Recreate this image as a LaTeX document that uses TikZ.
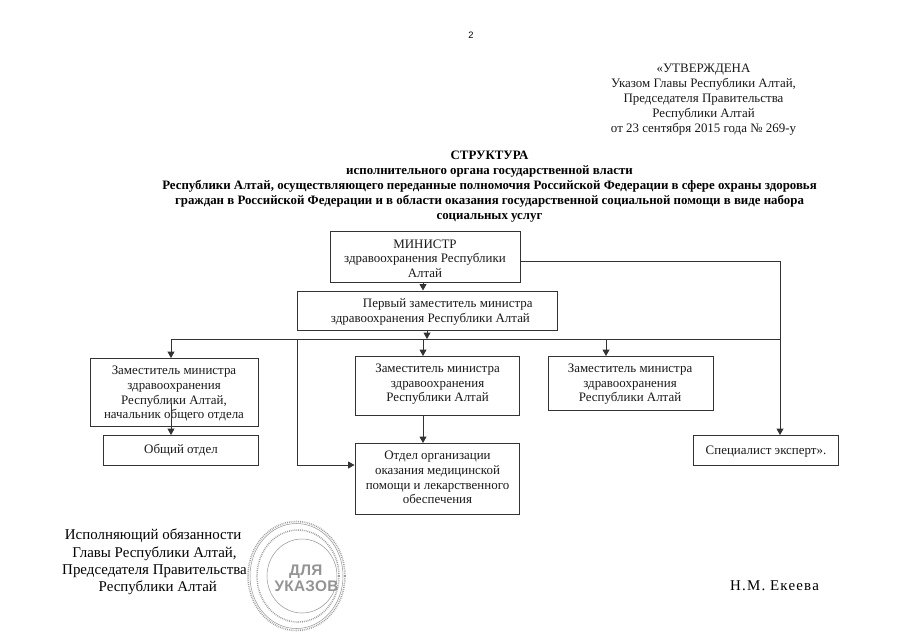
\documentclass[tikz,border=0pt]{standalone}
\usepackage{fontspec}
\setmainfont{Liberation Serif}
\setsansfont{Liberation Sans}
\usetikzlibrary{arrows.meta}
\tikzset{
  x=0.75pt,y=-0.75pt,
  orgbox/.style={draw=black!80,line width=0.65pt,fill=white,inner sep=0pt},
  conn/.style={draw=black!80,line width=0.65pt},
  arr/.style={conn,-{Triangle[length=4.8pt,width=5.2pt]}},
  txt/.style={inner sep=0pt,align=center,font=\fontsize{9.7pt}{11pt}\selectfont,text=black!90},
  head/.style={inner sep=0pt,align=center,font=\fontsize{9.65pt}{11.25pt}\selectfont\bfseries},
  sign/.style={inner sep=0pt,align=center,font=\fontsize{11.2pt}{13pt}\selectfont},
  ring/.style={draw=black!40,line width=0.4pt},
  dotring/.style={draw=black!38,line width=1.2pt,dash pattern=on 0.6pt off 0.8pt},
}
\begin{document}
\begin{tikzpicture}
\useasboundingbox (0,0) rectangle (905,640);
\fill[white] (0,0) rectangle (905,640);
\node[inner sep=0pt,font=\fontsize{7pt}{8pt}\sffamily\selectfont] (pg) at (471,35.5) {2};
\node[txt,anchor=north,font=\fontsize{9.7pt}{11.25pt}\selectfont] (appr) at (703.5,63.5) {«УТВЕРЖДЕНА\\Указом Главы Республики Алтай,\\Председателя Правительства\\Республики Алтай\\от 23 сентября 2015 года № 269-у};
\node[head,anchor=north] (title) at (489.5,151) {СТРУКТУРА\\
исполнительного органа государственной власти\\
Республики Алтай, осуществляющего переданные полномочия Российской Федерации в сфере охраны здоровья\\
граждан в Российской Федерации и в области оказания государственной социальной помощи в виде набора\\
социальных услуг};
% boxes
\node[orgbox,anchor=north west,minimum width=142.5pt,minimum height=37.9pt] (min) at (330,231) {};
\node[orgbox,anchor=north west,minimum width=195pt,minimum height=29.6pt] (first) at (297,290.5) {};
\node[orgbox,anchor=north west,minimum width=126pt,minimum height=51pt] (d1) at (90,358) {};
\node[orgbox,anchor=north west,minimum width=116.3pt,minimum height=22.5pt] (gen) at (103,435) {};
\node[orgbox,anchor=north west,minimum width=123.4pt,minimum height=44.6pt] (d2) at (354.5,356) {};
\node[orgbox,anchor=north west,minimum width=123.4pt,minimum height=53.6pt] (dept) at (354.5,443) {};
\node[orgbox,anchor=north west,minimum width=123.4pt,minimum height=40.5pt] (d3) at (548,356) {};
\node[orgbox,anchor=north west,minimum width=109pt,minimum height=22.5pt] (spec) at (693,435) {};
% labels
\node[txt] (mint) at (425,258.5) {МИНИСТР\\здравоохранения Республики\\Алтай};
\node[txt,anchor=north west] (firstt) at (328,298.5) {\hspace*{26pt}Первый заместитель министра\\здравоохранения Республики Алтай};
\node[txt,anchor=north] (d1t) at (174,366) {Заместитель министра\\здравоохранения\\Республики Алтай,\\начальник общего отдела};
\node[txt] (gent) at (181,450.5) {Общий отдел};
\node[txt,anchor=north] (d2t) at (437.5,363.5) {Заместитель министра\\здравоохранения\\Республики Алтай};
\node[txt,anchor=north] (deptt) at (437.5,451) {Отдел организации\\оказания медицинской\\помощи и лекарственного\\обеспечения};
\node[txt,anchor=north] (d3t) at (630,363.5) {Заместитель министра\\здравоохранения\\Республики Алтай};
\node[txt] (spect) at (766,451.5) {Специалист эксперт».};
% connector helper points
\coordinate (bus) at (427,339);
\coordinate (busL) at (171,339);
\coordinate (busM) at (297,339);
\coordinate (busS) at (423,339);
\coordinate (bus3) at (606,339);
\coordinate (busR) at (780,339);
\coordinate (minE) at (780,261.5);
\coordinate (d1mid) at (171,403);
\draw[arr] (min.south -| busS) -- (first.north -| busS);
\draw[arr] (first.south -| bus) -- (bus);
\draw[conn] (busL) -- (busR);
\draw[arr] (busL) -- (d1.north -| busL);
\draw[arr] (d1mid) -- (gen.north -| d1mid);
\draw[arr] (busS) -- (d2.north -| busS);
\draw[arr] (bus3) -- (d3.north -| bus3);
\draw[arr] (d2.south -| busS) -- (dept.north -| busS);
\coordinate (deptIn) at (297,465);
\draw[arr] (busM) -- (deptIn) -- (deptIn -| dept.west);
\draw[arr] (min.east |- minE) -- (minE) -- (spec.north -| minE);
% signature
\node[sign,anchor=north] (sig) at (154.5,529) {\hspace*{-2pt}Исполняющий обязанности\\Главы Республики Алтай,\\Председателя Правительства\\\hspace*{5pt}Республики Алтай};
\node[sign,anchor=base,font=\fontsize{11.2pt}{13pt}\selectfont\addfontfeature{LetterSpace=8}] (ek) at (774.5,590) {Н.М. Екеева};
% stamp
\draw[dotring] (296.5,576) ellipse (48.5 and 54.5);
\draw[ring] (296.5,576) ellipse (46.5 and 52.5);
\draw[dotring] (298,576) ellipse (41 and 46);
\draw[ring] (302,576) ellipse (35 and 37);
\node[inner sep=0pt,align=center,font=\fontsize{11.5pt}{12pt}\sffamily\bfseries\selectfont\addfontfeature{LetterSpace=2},text=black!42] (st) at (306.5,578) {\hspace*{-1pt}ДЛЯ\\УКАЗОВ};
\end{tikzpicture}
\end{document}
